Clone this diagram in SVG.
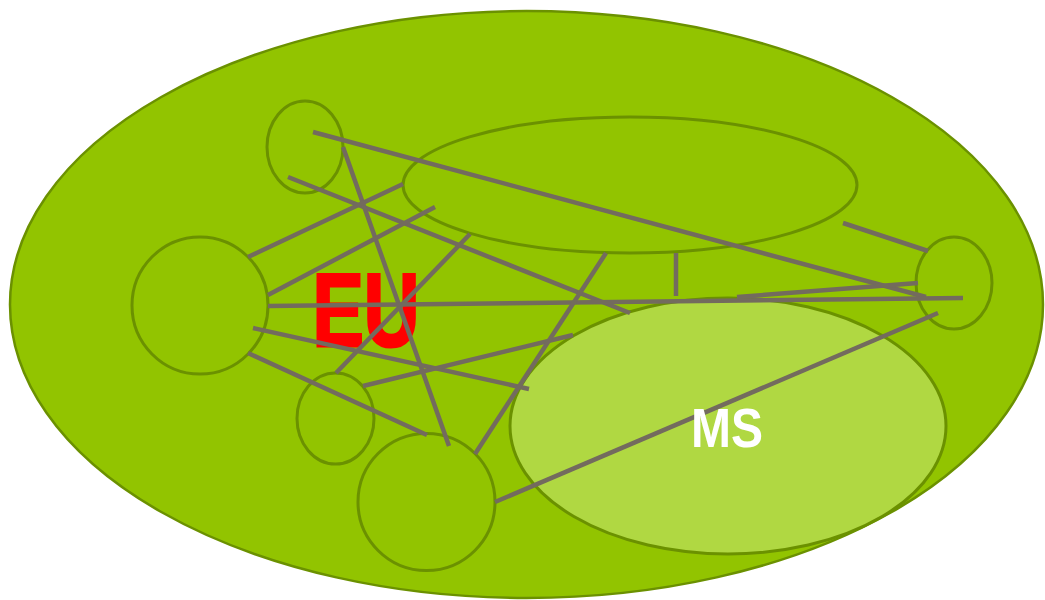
<svg xmlns="http://www.w3.org/2000/svg" width="1045" height="600" viewBox="0 0 1045 600">
  <style>
    .outer { fill: #92C400; stroke: #6B9100; stroke-width: 2.5; }
    .node { fill: #92C400; stroke: #6B9100; stroke-width: 3; }
    .ms { fill: #B0D842; stroke: #6B9100; stroke-width: 3; }
    .link { stroke: #736B5E; stroke-width: 4.5; fill: none; }
    .eu { font-family: "Liberation Sans", Arial, sans-serif; font-weight: bold; fill: #FF0000; stroke: #FF0000; stroke-width: 3; }
    .mslabel { font-family: "Liberation Sans", Arial, sans-serif; font-weight: bold; fill: #FFFFFF; }
  </style>
  <rect width="1045" height="600" fill="#FFFFFF"/>
  <g id="eu">
    <ellipse class="outer" cx="526.5" cy="304.5" rx="516.5" ry="293.5"/>
  </g>
  <g id="node-topleft"><ellipse class="node" cx="305" cy="147" rx="38" ry="46"/></g>
  <g id="node-top"><ellipse class="node" cx="630" cy="185" rx="227" ry="68"/></g>
  <g id="node-left"><ellipse class="node" cx="200" cy="305.5" rx="68" ry="68.5"/></g>
  <g id="node-right"><ellipse class="node" cx="954" cy="283" rx="38" ry="46"/></g>
  <g id="node-lowleft"><ellipse class="node" cx="335.5" cy="418.5" rx="38.5" ry="45.5"/></g>
  <g id="node-bottom"><ellipse class="node" cx="426.5" cy="502" rx="68.5" ry="68.5"/></g>
  <g id="ms"><ellipse class="ms" cx="728" cy="426" rx="218" ry="128"/></g>
  <g id="eu-label">
    <text class="eu" x="312.5" y="345.5" font-size="103" textLength="107" lengthAdjust="spacingAndGlyphs">EU</text>
  </g>
  <g id="connectors">
    <line class="link" x1="313" y1="132" x2="926" y2="297"/>
    <line class="link" x1="288" y1="177" x2="630" y2="313"/>
    <line class="link" x1="343" y1="147" x2="449" y2="446"/>
    <line class="link" x1="248" y1="257" x2="403" y2="184"/>
    <line class="link" x1="268" y1="295" x2="435" y2="207"/>
    <line class="link" x1="336" y1="373" x2="470" y2="234"/>
    <line class="link" x1="268" y1="306" x2="963" y2="298"/>
    <line class="link" x1="253" y1="328" x2="529" y2="389"/>
    <line class="link" x1="248" y1="353" x2="427" y2="435"/>
    <line class="link" x1="363" y1="386" x2="573" y2="335"/>
    <line class="link" x1="475" y1="454" x2="606" y2="253"/>
    <line class="link" x1="676" y1="253" x2="676" y2="296"/>
    <line class="link" x1="737" y1="297" x2="918" y2="283"/>
    <line class="link" x1="843" y1="223" x2="928" y2="251"/>
    <line class="link" x1="495" y1="502" x2="938" y2="313"/>
  </g>
  <g id="ms-label">
    <text class="mslabel" x="691" y="447" font-size="56" textLength="72" lengthAdjust="spacingAndGlyphs">MS</text>
  </g>
</svg>
